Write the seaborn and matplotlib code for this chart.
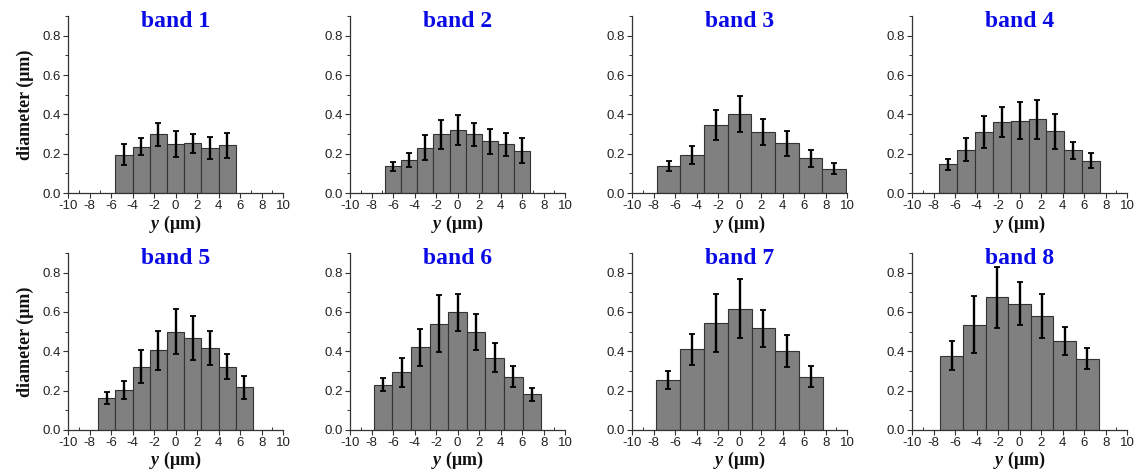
import matplotlib
matplotlib.use("Agg")
import matplotlib.pyplot as plt
from matplotlib.ticker import MultipleLocator, FormatStrFormatter
import numpy as np
import pandas as pd
import seaborn as sns

# bin centres (y, um), mean diameter (um) and error per band
band1_y = [-4.8, -3.2, -1.6, 0, 1.6, 3.2, 4.8]
band1_d = [0.196, 0.235, 0.298, 0.250, 0.252, 0.230, 0.242]
band1_err = [0.055, 0.044, 0.060, 0.067, 0.050, 0.056, 0.062]

band2_y = [-6, -4.5, -3, -1.5, 0, 1.5, 3, 4.5, 6]
band2_d = [0.136, 0.167, 0.231, 0.298, 0.320, 0.298, 0.264, 0.247, 0.216]
band2_err = [0.024, 0.037, 0.063, 0.075, 0.077, 0.060, 0.064, 0.060, 0.063]

band3_y = [-6.6, -4.4, -2.2, 0, 2.2, 4.4, 6.6, 8.8]
band3_d = [0.138, 0.194, 0.346, 0.403, 0.310, 0.252, 0.177, 0.124]
band3_err = [0.027, 0.045, 0.075, 0.093, 0.064, 0.063, 0.043, 0.028]

band4_y = [-6.68, -5.01, -3.34, -1.67, 0, 1.67, 3.34, 5.01, 6.68]
band4_d = [0.146, 0.221, 0.311, 0.361, 0.368, 0.376, 0.315, 0.218, 0.165]
band4_err = [0.027, 0.060, 0.083, 0.076, 0.093, 0.099, 0.089, 0.043, 0.037]

band5_y = [-6.4, -4.8, -3.2, -1.6, 0, 1.6, 3.2, 4.8, 6.4]
band5_d = [0.164, 0.203, 0.322, 0.405, 0.500, 0.469, 0.415, 0.322, 0.217]
band5_err = [0.030, 0.046, 0.084, 0.100, 0.113, 0.112, 0.086, 0.064, 0.058]

band6_y = [-6.92, -5.19, -3.46, -1.73, 0, 1.73, 3.46, 5.19, 6.92]
band6_d = [0.231, 0.293, 0.420, 0.541, 0.598, 0.498, 0.368, 0.271, 0.181]
band6_err = [0.033, 0.074, 0.094, 0.143, 0.096, 0.091, 0.072, 0.054, 0.033]

band7_y = [-6.66, -4.44, -2.22, 0, 2.22, 4.44, 6.66]
band7_d = [0.254, 0.410, 0.546, 0.617, 0.517, 0.403, 0.271]
band7_err = [0.044, 0.078, 0.147, 0.150, 0.093, 0.082, 0.053]

band8_y = [-6.3, -4.2, -2.1, 0, 2.1, 4.2, 6.3]
band8_d = [0.378, 0.536, 0.676, 0.642, 0.581, 0.454, 0.363]
band8_err = [0.074, 0.146, 0.155, 0.108, 0.113, 0.072, 0.054]

bands = [
    ("band 1", band1_y, band1_d, band1_err),
    ("band 2", band2_y, band2_d, band2_err),
    ("band 3", band3_y, band3_d, band3_err),
    ("band 4", band4_y, band4_d, band4_err),
    ("band 5", band5_y, band5_d, band5_err),
    ("band 6", band6_y, band6_d, band6_err),
    ("band 7", band7_y, band7_d, band7_err),
    ("band 8", band8_y, band8_d, band8_err),
]

sns.set_theme(style="ticks")
plt.rcParams["font.family"] = ["Liberation Sans", "DejaVu Sans"]
plt.rcParams["axes.unicode_minus"] = False
plt.rcParams["mathtext.fontset"] = "custom"
plt.rcParams["mathtext.it"] = "Liberation Serif:italic:bold"
plt.rcParams["mathtext.rm"] = "Liberation Serif:bold"

serif = ["Liberation Serif", "DejaVu Serif"]

fig = plt.figure(figsize=(11.38, 4.72), dpi=100)
lefts = [0.0598, 0.3076, 0.5554, 0.8014]
bottoms = [0.591, 0.089]
w, h = 0.189, 0.375

for i, (name, yc, d, err) in enumerate(bands):
    row, col = divmod(i, 4)
    ax = fig.add_axes([lefts[col], bottoms[row], w, h])
    df = pd.DataFrame({"y": yc, "d": d, "err": err})
    step = float(np.diff(df["y"]).mean())
    edges = [v - step / 2 for v in df["y"]] + [df["y"].iloc[-1] + step / 2]
    sns.histplot(data=df, x="y", weights="d", bins=edges, ax=ax,
                 color="#808080", edgecolor="#333333", linewidth=0.8, alpha=1)
    ax.errorbar(df["y"], df["d"], yerr=df["err"], fmt="none", ecolor="black",
                elinewidth=1.7, capsize=2.2, capthick=1.3)

    ax.set_xlim(-10, 10)
    ax.set_ylim(0, 0.9)
    ax.xaxis.set_major_locator(MultipleLocator(2))
    ax.xaxis.set_minor_locator(MultipleLocator(1))
    ax.yaxis.set_major_locator(MultipleLocator(0.2))
    ax.yaxis.set_minor_locator(MultipleLocator(0.1))
    ax.yaxis.set_major_formatter(FormatStrFormatter("%.1f"))
    ax.tick_params(axis="both", which="major", length=3.5, width=0.8,
                   labelsize=9.5, pad=1.5, color="#333333",
                   labelcolor="#222222")
    ax.tick_params(axis="x", which="minor", direction="in", length=2.5,
                   width=0.7, color="#333333")
    ax.tick_params(axis="y", which="minor", direction="out", length=2.5,
                   width=0.7, color="#333333")
    sns.despine(ax=ax)
    for s in ("left", "bottom"):
        ax.spines[s].set_linewidth(0.9)
        ax.spines[s].set_color("#333333")

    ax.text(0.5, 0.94, name, transform=ax.transAxes, ha="center",
            va="baseline", color="#0a0ae6", fontsize=17, fontweight="bold",
            family=serif)
    ax.set_xlabel(r"$y$ (μm)", fontsize=13, fontweight="bold", family=serif,
                  labelpad=1, color="#111111")
    if col == 0:
        ax.set_ylabel("diameter (μm)", fontsize=13, fontweight="bold",
                      family=serif, labelpad=6, color="#111111")
    else:
        ax.set_ylabel("")

fig.savefig("out.png", dpi=100)
